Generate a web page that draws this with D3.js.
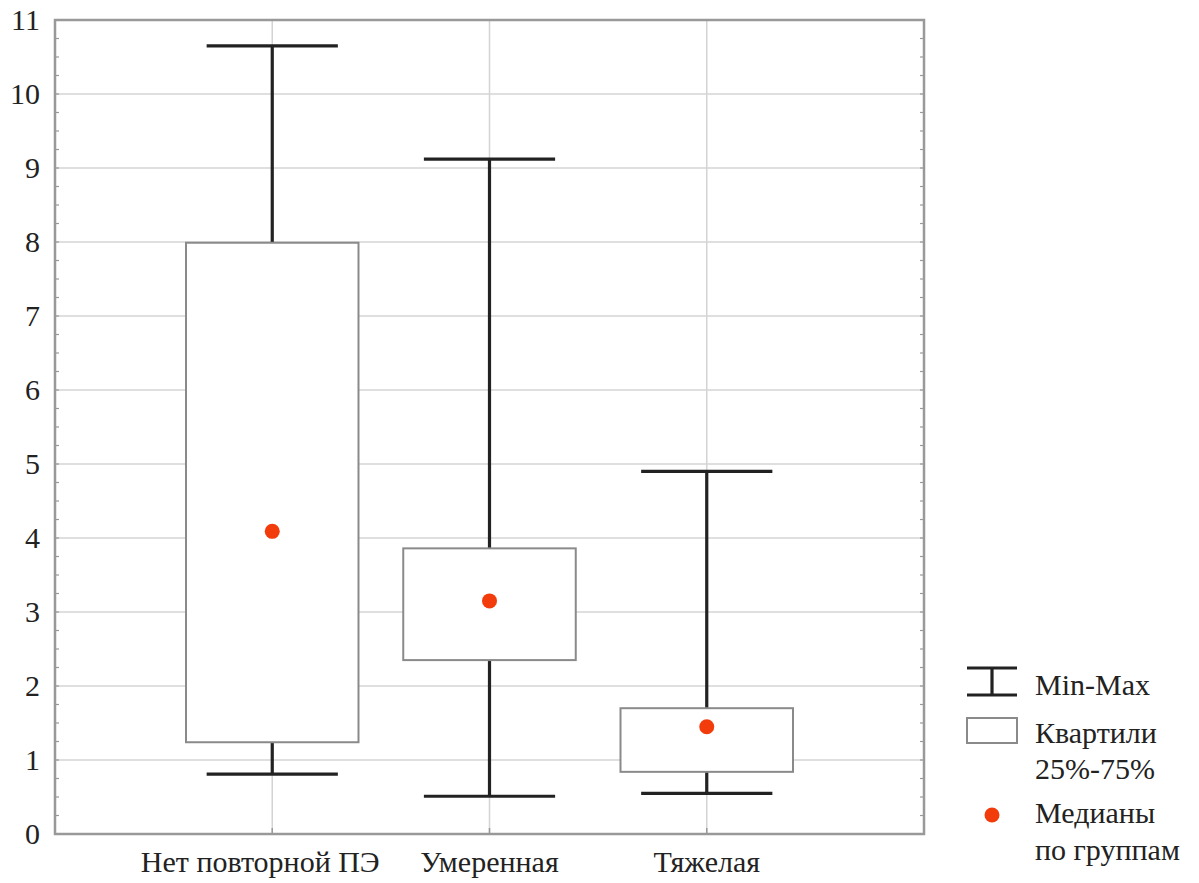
<!DOCTYPE html>
<html>
<head>
<meta charset="utf-8">
<script src="https://cdn.jsdelivr.net/npm/d3@7"></script>
</head>
<body style="margin:0">
<script>
// groups and their summary values
var groups = ['Нет повторной ПЭ', 'Умеренная', 'Тяжелая'];
var minVals = [0.81, 0.51, 0.55];
var q1Vals = [1.24, 2.35, 0.84];
var medVals = [4.09, 3.15, 1.45];
var q3Vals = [7.99, 3.86, 1.70];
var maxVals = [10.65, 9.12, 4.90];
var yTicks = [0, 1, 2, 3, 4, 5, 6, 7, 8, 9, 10, 11];
var legendLabels = ['Min-Max', 'Квартили', '25%-75%', 'Медианы', 'по группам'];

var width = 1199, height = 883;
var margin = { left: 55, right: 275, top: 20, bottom: 49 };

var svg = d3.select('body').append('svg')
    .attr('width', width)
    .attr('height', height);

var x = d3.scalePoint()
    .domain(groups)
    .range([margin.left, width - margin.right])
    .padding(1);

var y = d3.scaleLinear()
    .domain([0, 11])
    .range([height - margin.bottom, margin.top]);

var step = x.step(),
    boxHalf = step * 0.397,
    capHalf = step * 0.302;

var rows = groups.map(function (g, i) {
    return { g: g, min: minVals[i], q1: q1Vals[i], med: medVals[i], q3: q3Vals[i], max: maxVals[i] };
});

// grid
svg.selectAll('line.hgrid')
    .data(yTicks.slice(1, -1))
    .enter().append('line')
    .attr('class', 'hgrid')
    .attr('x1', margin.left).attr('x2', width - margin.right)
    .attr('y1', function (d) { return y(d); })
    .attr('y2', function (d) { return y(d); })
    .attr('stroke', '#d4d4d4').attr('stroke-width', 1.5);

svg.selectAll('line.vgrid')
    .data(groups)
    .enter().append('line')
    .attr('class', 'vgrid')
    .attr('x1', function (d) { return x(d); })
    .attr('x2', function (d) { return x(d); })
    .attr('y1', y(11)).attr('y2', y(0))
    .attr('stroke', '#d4d4d4').attr('stroke-width', 1.5);

// minor ticks inside the left and right frame
var minor = d3.range(0, 11.01, 0.25);
[[margin.left, 1], [width - margin.right, -1]].forEach(function (s, k) {
    svg.selectAll('line.minor' + k)
        .data(minor)
        .enter().append('line')
        .attr('class', 'minor' + k)
        .attr('x1', s[0]).attr('x2', s[0] + s[1] * 4)
        .attr('y1', function (d) { return y(d); })
        .attr('y2', function (d) { return y(d); })
        .attr('stroke', '#999').attr('stroke-width', 1.2);
});

// whiskers
var wh = svg.selectAll('g.wh')
    .data(rows)
    .enter().append('g')
    .attr('class', 'wh')
    .attr('stroke', '#222').attr('stroke-width', 3.2);

wh.append('line')
    .attr('x1', function (d) { return x(d.g); })
    .attr('x2', function (d) { return x(d.g); })
    .attr('y1', function (d) { return y(d.min); })
    .attr('y2', function (d) { return y(d.max); });
wh.append('line')
    .attr('x1', function (d) { return x(d.g) - capHalf; })
    .attr('x2', function (d) { return x(d.g) + capHalf; })
    .attr('y1', function (d) { return y(d.max); })
    .attr('y2', function (d) { return y(d.max); });
wh.append('line')
    .attr('x1', function (d) { return x(d.g) - capHalf; })
    .attr('x2', function (d) { return x(d.g) + capHalf; })
    .attr('y1', function (d) { return y(d.min); })
    .attr('y2', function (d) { return y(d.min); });

// boxes
svg.selectAll('rect.box')
    .data(rows)
    .enter().append('rect')
    .attr('class', 'box')
    .attr('x', function (d) { return x(d.g) - boxHalf; })
    .attr('width', boxHalf * 2)
    .attr('y', function (d) { return y(d.q3); })
    .attr('height', function (d) { return y(d.q1) - y(d.q3); })
    .attr('fill', '#fff')
    .attr('stroke', '#8a8a8a').attr('stroke-width', 2);

// medians
svg.selectAll('circle.med')
    .data(rows)
    .enter().append('circle')
    .attr('class', 'med')
    .attr('cx', function (d) { return x(d.g); })
    .attr('cy', function (d) { return y(d.med); })
    .attr('r', 7.5)
    .attr('fill', '#f23c0c');

// frame
svg.append('rect')
    .attr('x', margin.left).attr('y', margin.top)
    .attr('width', width - margin.left - margin.right)
    .attr('height', height - margin.top - margin.bottom)
    .attr('fill', 'none')
    .attr('stroke', '#999').attr('stroke-width', 2.5);

// x axis small ticks
svg.selectAll('line.xt')
    .data(groups)
    .enter().append('line')
    .attr('class', 'xt')
    .attr('x1', function (d) { return x(d); })
    .attr('x2', function (d) { return x(d); })
    .attr('y1', y(0)).attr('y2', y(0) - 6)
    .attr('stroke', '#999').attr('stroke-width', 1.5);

// legend symbols
var lx = 967;
svg.append('line').attr('x1', lx).attr('x2', lx + 50).attr('y1', 668).attr('y2', 668)
    .attr('stroke', '#222').attr('stroke-width', 3.2);
svg.append('line').attr('x1', lx).attr('x2', lx + 50).attr('y1', 695).attr('y2', 695)
    .attr('stroke', '#222').attr('stroke-width', 3.2);
svg.append('line').attr('x1', lx + 25).attr('x2', lx + 25).attr('y1', 668).attr('y2', 695)
    .attr('stroke', '#222').attr('stroke-width', 3.2);
svg.append('rect').attr('x', lx).attr('y', 718).attr('width', 50).attr('height', 25)
    .attr('fill', '#fff').attr('stroke', '#8a8a8a').attr('stroke-width', 2);
svg.append('circle').attr('cx', lx + 25).attr('cy', 815).attr('r', 7.5).attr('fill', '#f23c0c');

// all texts as direct children of the svg
function serif(sel) {
    return sel.style('font-family', function () { return "'Liberation Serif'"; })
        .style('font-size', '30px')
        .attr('fill', '#222');
}

serif(svg.selectAll('text.yl')
    .data(yTicks)
    .enter().append('text')
    .attr('class', 'yl')
    .attr('x', margin.left - 15)
    .attr('y', function (d) { return y(d) + 10; })
    .attr('text-anchor', 'end')
    .text(function (d) { return d; }));

serif(svg.selectAll('text.xl')
    .data(groups)
    .enter().append('text')
    .attr('class', 'xl')
    .attr('x', function (d, i) { return x(d) - (i === 0 ? 12 : 0); })
    .attr('y', y(0) + 38)
    .attr('text-anchor', 'middle')
    .text(function (d) { return d; }));

var legendY = [695, 743, 779, 823, 860];
serif(svg.selectAll('text.lt')
    .data(legendLabels)
    .enter().append('text')
    .attr('class', 'lt')
    .attr('x', lx + 68)
    .attr('y', function (d, i) { return legendY[i]; })
    .text(function (d) { return d; }));
</script>
</body>
</html>
